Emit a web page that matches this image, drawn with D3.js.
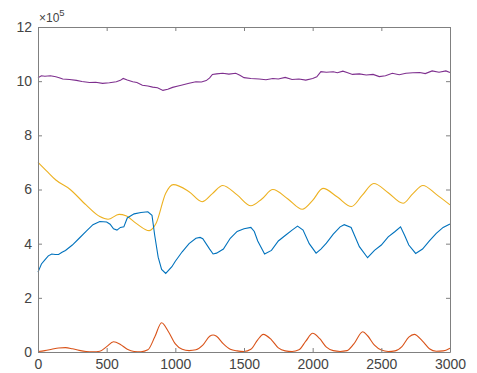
<!DOCTYPE html>
<html><head><meta charset="utf-8">
<script src="https://cdn.jsdelivr.net/npm/d3@7"></script>
<style>body{margin:0;background:#fff;} svg{display:block;}</style>
</head><body>
<script>
// Tick labels
const xTicks = [0, 500, 1000, 1500, 2000, 2500, 3000];
const yTicks = [0, 2, 4, 6, 8, 10, 12];

// Series (values in units of 1e5)
const purpleX = [0,25,50,90,130,160,180,230,280,320,375,420,470,520,570,600,620,650,690,720,760,800,835,870,910,945,980,1020,1050,1100,1150,1190,1225,1250,1270,1300,1345,1390,1440,1470,1500,1550,1610,1660,1710,1750,1800,1850,1900,1950,2000,2030,2060,2100,2150,2180,2220,2250,2290,2340,2390,2440,2485,2530,2580,2630,2680,2730,2780,2820,2870,2920,2970,3000];
const purpleY = [10.13,10.2,10.18,10.2,10.16,10.12,10.08,10.06,10.03,9.99,9.95,9.96,9.92,9.94,9.98,10.03,10.1,10.04,9.98,9.95,9.85,9.82,9.78,9.76,9.66,9.7,9.77,9.82,9.86,9.92,9.98,9.97,10.02,10.12,10.25,10.27,10.29,10.26,10.29,10.22,10.13,10.1,10.08,10.05,10.1,10.08,10.14,10.06,10.08,10.04,10.1,10.16,10.35,10.33,10.35,10.31,10.37,10.32,10.25,10.27,10.23,10.25,10.17,10.2,10.29,10.24,10.29,10.31,10.32,10.28,10.38,10.33,10.38,10.32];

const yellowX = [0,60,130,230,350,450,510,590,640,715,810,860,930,985,1100,1195,1270,1345,1450,1550,1630,1710,1820,1925,2000,2075,2180,2282,2360,2445,2550,2658,2730,2803,2900,3000];
const yellowY = [7.0,6.7,6.35,6.02,5.43,5.0,4.9,5.08,5.03,4.75,4.48,4.75,5.86,6.18,5.92,5.55,5.85,6.15,5.8,5.4,5.65,6.0,5.65,5.27,5.6,6.04,5.72,5.37,5.78,6.22,5.88,5.49,5.85,6.15,5.82,5.43];

const blueX = [0,25,50,75,100,125,150,175,200,250,300,350,400,450,500,525,550,575,600,625,650,700,750,800,830,850,875,900,930,975,1000,1050,1100,1150,1180,1200,1250,1275,1300,1350,1400,1450,1500,1550,1575,1600,1650,1700,1750,1800,1850,1890,1930,1975,2025,2060,2100,2150,2200,2230,2280,2340,2400,2450,2500,2550,2600,2640,2670,2700,2750,2800,2850,2900,2950,3000];
const blueY = [2.95,3.25,3.4,3.55,3.62,3.6,3.6,3.68,3.75,3.95,4.2,4.45,4.7,4.82,4.8,4.72,4.55,4.5,4.6,4.62,4.95,5.1,5.15,5.18,5.05,4.3,3.5,3.05,2.9,3.15,3.35,3.7,4.0,4.2,4.23,4.18,3.8,3.62,3.65,3.8,4.2,4.45,4.55,4.6,4.45,4.1,3.62,3.75,4.1,4.3,4.5,4.65,4.5,4.0,3.65,3.8,4.02,4.35,4.62,4.7,4.6,3.89,3.48,3.75,3.95,4.25,4.45,4.62,4.3,3.95,3.64,3.8,4.1,4.38,4.6,4.73];

const orangeX = [0,50,100,150,200,250,300,350,400,450,500,550,600,650,700,750,800,850,900,950,1000,1050,1100,1150,1200,1250,1275,1300,1350,1400,1450,1500,1550,1600,1640,1700,1750,1800,1850,1900,1950,2000,2050,2100,2150,2200,2250,2300,2365,2400,2450,2500,2550,2600,2650,2700,2740,2800,2850,2900,2950,3000];
const orangeY = [0.02,0.05,0.1,0.15,0.16,0.12,0.06,0.02,0.01,0.03,0.2,0.38,0.28,0.1,0.02,0.01,0.08,0.55,1.08,0.75,0.3,0.1,0.05,0.08,0.25,0.58,0.63,0.58,0.3,0.1,0.04,0.02,0.1,0.45,0.65,0.45,0.15,0.04,0.02,0.08,0.4,0.69,0.5,0.18,0.05,0.02,0.05,0.3,0.75,0.6,0.25,0.07,0.02,0.04,0.2,0.55,0.65,0.4,0.12,0.03,0.04,0.14];

const W = 477, H = 373;
const L = 38, R = 450, T = 27, B = 352;
const svg = d3.select("body").append("svg").attr("width", W).attr("height", H);
const x = d3.scaleLinear().domain([0, 3000]).range([L, R]);
const y = d3.scaleLinear().domain([0, 12]).range([B, T]);

const axisCol = "#808080", textCol = "#444";
const font = "'Liberation Sans', Arial, Helvetica, sans-serif";

function series(xs, ys, color, curve) {
  const pts = xs.map((v, i) => [v, ys[i]]);
  svg.append("path").datum(pts)
    .attr("fill", "none").attr("stroke", color).attr("stroke-width", 1.1)
    .attr("d", d3.line().x(d => x(d[0])).y(d => y(d[1])).curve(curve));
}
series(purpleX, purpleY, "#7E2F8E", d3.curveLinear);
series(yellowX, yellowY, "#EDB120", d3.curveMonotoneX);
series(blueX, blueY, "#0072BD", d3.curveLinear);
series(orangeX, orangeY, "#D95319", d3.curveMonotoneX);

// axes: bottom, left with inward ticks, plus top/right box
const tk = 4;
const gB = svg.append("g").attr("transform", `translate(0,${B})`)
  .call(d3.axisBottom(x).tickValues(xTicks).tickFormat(d3.format("d")).tickSizeInner(-tk).tickSizeOuter(0).tickPadding(7));
const gL = svg.append("g").attr("transform", `translate(${L},0)`)
  .call(d3.axisLeft(y).tickValues(yTicks).tickFormat(d3.format("d")).tickSizeInner(-tk).tickSizeOuter(0).tickPadding(6));
const gT = svg.append("g").attr("transform", `translate(0,${T})`)
  .call(d3.axisTop(x).tickValues(xTicks).tickSizeInner(-tk).tickSizeOuter(0).tickFormat(""));
const gR = svg.append("g").attr("transform", `translate(${R},0)`)
  .call(d3.axisRight(y).tickValues(yTicks).tickSizeInner(-tk).tickSizeOuter(0).tickFormat(""));
[gB, gL, gT, gR].forEach(g => {
  g.selectAll(".domain").attr("stroke", axisCol).attr("stroke-width", 1);
  g.selectAll(".tick line").attr("stroke", axisCol);
  g.selectAll("text").attr("fill", textCol).style("font-family", font).style("font-size", "14px");
});

// exponent label
const ex = svg.append("text").attr("x", L + 1).attr("y", 22)
  .attr("fill", textCol).style("font-family", font).style("font-size", "12px");
ex.append("tspan").text("×10");
ex.append("tspan").attr("dy", -6).style("font-size", "9.5px").text("5");
</script>
</body></html>
